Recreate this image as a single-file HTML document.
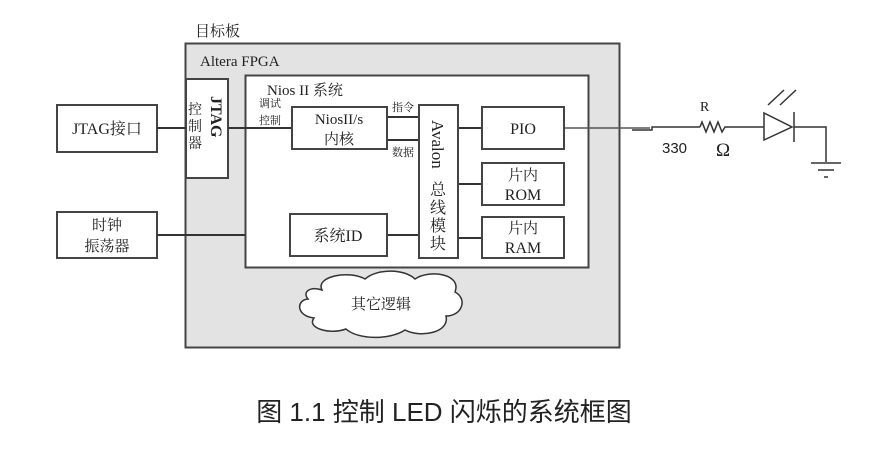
<!DOCTYPE html>
<html><head><meta charset="utf-8"><style>
html,body{margin:0;padding:0;background:#fff;}
svg{display:block;}
text{font-family:"Liberation Serif","Noto Serif CJK SC",serif;fill:#222;}
.s{font-family:"Liberation Sans","Noto Sans CJK SC",sans-serif;}
</style></head><body>
<svg width="892" height="464" viewBox="0 0 892 464" xmlns="http://www.w3.org/2000/svg">
<text x="195" y="36" font-size="15" fill="#444">目标板</text>
<rect x="185.5" y="43.5" width="434" height="304" fill="#e3e3e3" stroke="#444" stroke-width="2"/>
<text x="200" y="66" font-size="15">Altera FPGA</text>
<rect x="245.5" y="75.5" width="343" height="192" fill="#fff" stroke="#444" stroke-width="2"/>
<text x="267" y="95" font-size="15">Nios II 系统</text>
<rect x="186" y="79" width="42" height="99" fill="#fff" stroke="#444" stroke-width="2"/>
<text transform="translate(211,96) rotate(90)" font-size="16" font-weight="bold">JTAG</text>
<text x="188" y="114" font-size="14" fill="#444">控</text>
<text x="188" y="131" font-size="14" fill="#444">制</text>
<text x="188" y="148" font-size="14" fill="#444">器</text>
<rect x="57" y="105" width="100" height="47" fill="#fff" stroke="#444" stroke-width="2"/>
<text x="107" y="134" font-size="16" text-anchor="middle">JTAG接口</text>
<rect x="57" y="212" width="100" height="46" fill="#fff" stroke="#444" stroke-width="2"/>
<text x="107" y="230" font-size="15" text-anchor="middle" fill="#444">时钟</text>
<text x="107" y="251" font-size="15" text-anchor="middle" fill="#444">振荡器</text>
<g stroke="#333" stroke-width="2" fill="none">
<line x1="157" y1="128" x2="186" y2="128"/>
<line x1="228" y1="128" x2="292" y2="128"/>
<line x1="157" y1="235" x2="245" y2="235"/>
<line x1="387" y1="117" x2="419" y2="117"/>
<line x1="387" y1="140" x2="419" y2="140"/>
<line x1="387" y1="235" x2="419" y2="235"/>
<line x1="458" y1="128" x2="482" y2="128"/>
<line x1="458" y1="184" x2="482" y2="184"/>
<line x1="458" y1="238" x2="482" y2="238"/>
</g>
<line x1="564" y1="128" x2="650" y2="128" stroke="#555" stroke-width="1.5"/>
<polyline points="632,130 652,130 652,127 700,127" fill="none" stroke="#333" stroke-width="1.5"/>
<text x="259" y="107" font-size="11" fill="#444">调试</text>
<text x="259" y="124" font-size="11" fill="#444">控制</text>
<rect x="292" y="107" width="95" height="42" fill="#fff" stroke="#444" stroke-width="2"/>
<text x="339" y="124" font-size="15" text-anchor="middle">NiosII/s</text>
<text x="339" y="144" font-size="15" text-anchor="middle" fill="#444">内核</text>
<text x="392" y="111" font-size="11" fill="#444">指令</text>
<text x="392" y="156" font-size="11" fill="#444">数据</text>
<rect x="419" y="105" width="39" height="153" fill="#fff" stroke="#444" stroke-width="2"/>
<text transform="translate(432,120) rotate(90)" font-size="17">Avalon</text>
<text x="430" y="195" font-size="16" fill="#444">总</text>
<text x="430" y="213" font-size="16" fill="#444">线</text>
<text x="430" y="231" font-size="16" fill="#444">模</text>
<text x="430" y="249" font-size="16" fill="#444">块</text>
<rect x="482" y="107" width="82" height="42" fill="#fff" stroke="#444" stroke-width="2"/>
<text x="523" y="134" font-size="16" text-anchor="middle">PIO</text>
<rect x="482" y="163" width="82" height="42" fill="#fff" stroke="#444" stroke-width="2"/>
<text x="523" y="180" font-size="15" text-anchor="middle" fill="#444">片内</text>
<text x="523" y="200" font-size="16" text-anchor="middle">ROM</text>
<rect x="482" y="217" width="82" height="41" fill="#fff" stroke="#444" stroke-width="2"/>
<text x="523" y="233" font-size="15" text-anchor="middle" fill="#444">片内</text>
<text x="523" y="253" font-size="16" text-anchor="middle">RAM</text>
<rect x="290" y="214" width="97" height="42" fill="#fff" stroke="#444" stroke-width="2"/>
<text x="338" y="241" font-size="16" text-anchor="middle">系统ID</text>
<path d="M322,290 C315,276 350,270 365,279 C378,268 405,269 415,279 C430,269 462,274 455,292 C468,299 462,316 446,316 C450,333 420,338 405,330 C390,340 358,340 346,329 C330,335 306,328 314,318 C296,316 296,300 308,299 C302,292 310,286 322,290 Z" fill="#fff" stroke="#333" stroke-width="1.5"/>
<text x="381" y="309" font-size="15" text-anchor="middle" fill="#444">其它逻辑</text>
<g stroke="#333" stroke-width="1.5" fill="none">
<polyline points="700,127 702,122 706,132 710,122 714,132 718,122 722,132 725,127 764,127"/>
<polygon points="764,113 764,140 792,127"/>
<line x1="794" y1="112" x2="794" y2="142"/>
<polyline points="794,127 826,127 826,162"/>
<line x1="811" y1="163" x2="841" y2="163"/>
<line x1="818" y1="170" x2="834" y2="170"/>
<line x1="824" y1="177" x2="828" y2="177"/>
<line x1="768" y1="105" x2="784" y2="90"/>
<line x1="780" y1="105" x2="796" y2="90"/>
</g>
<text x="700" y="111" font-size="14">R</text>
<text x="662" y="153" font-size="15" class="s">330</text>
<text x="716" y="156" font-size="19">Ω</text>
<text x="444" y="421" font-size="26" text-anchor="middle" class="s" fill="#000">图 1.1  控制 LED 闪烁的系统框图</text>
</svg>
</body></html>
